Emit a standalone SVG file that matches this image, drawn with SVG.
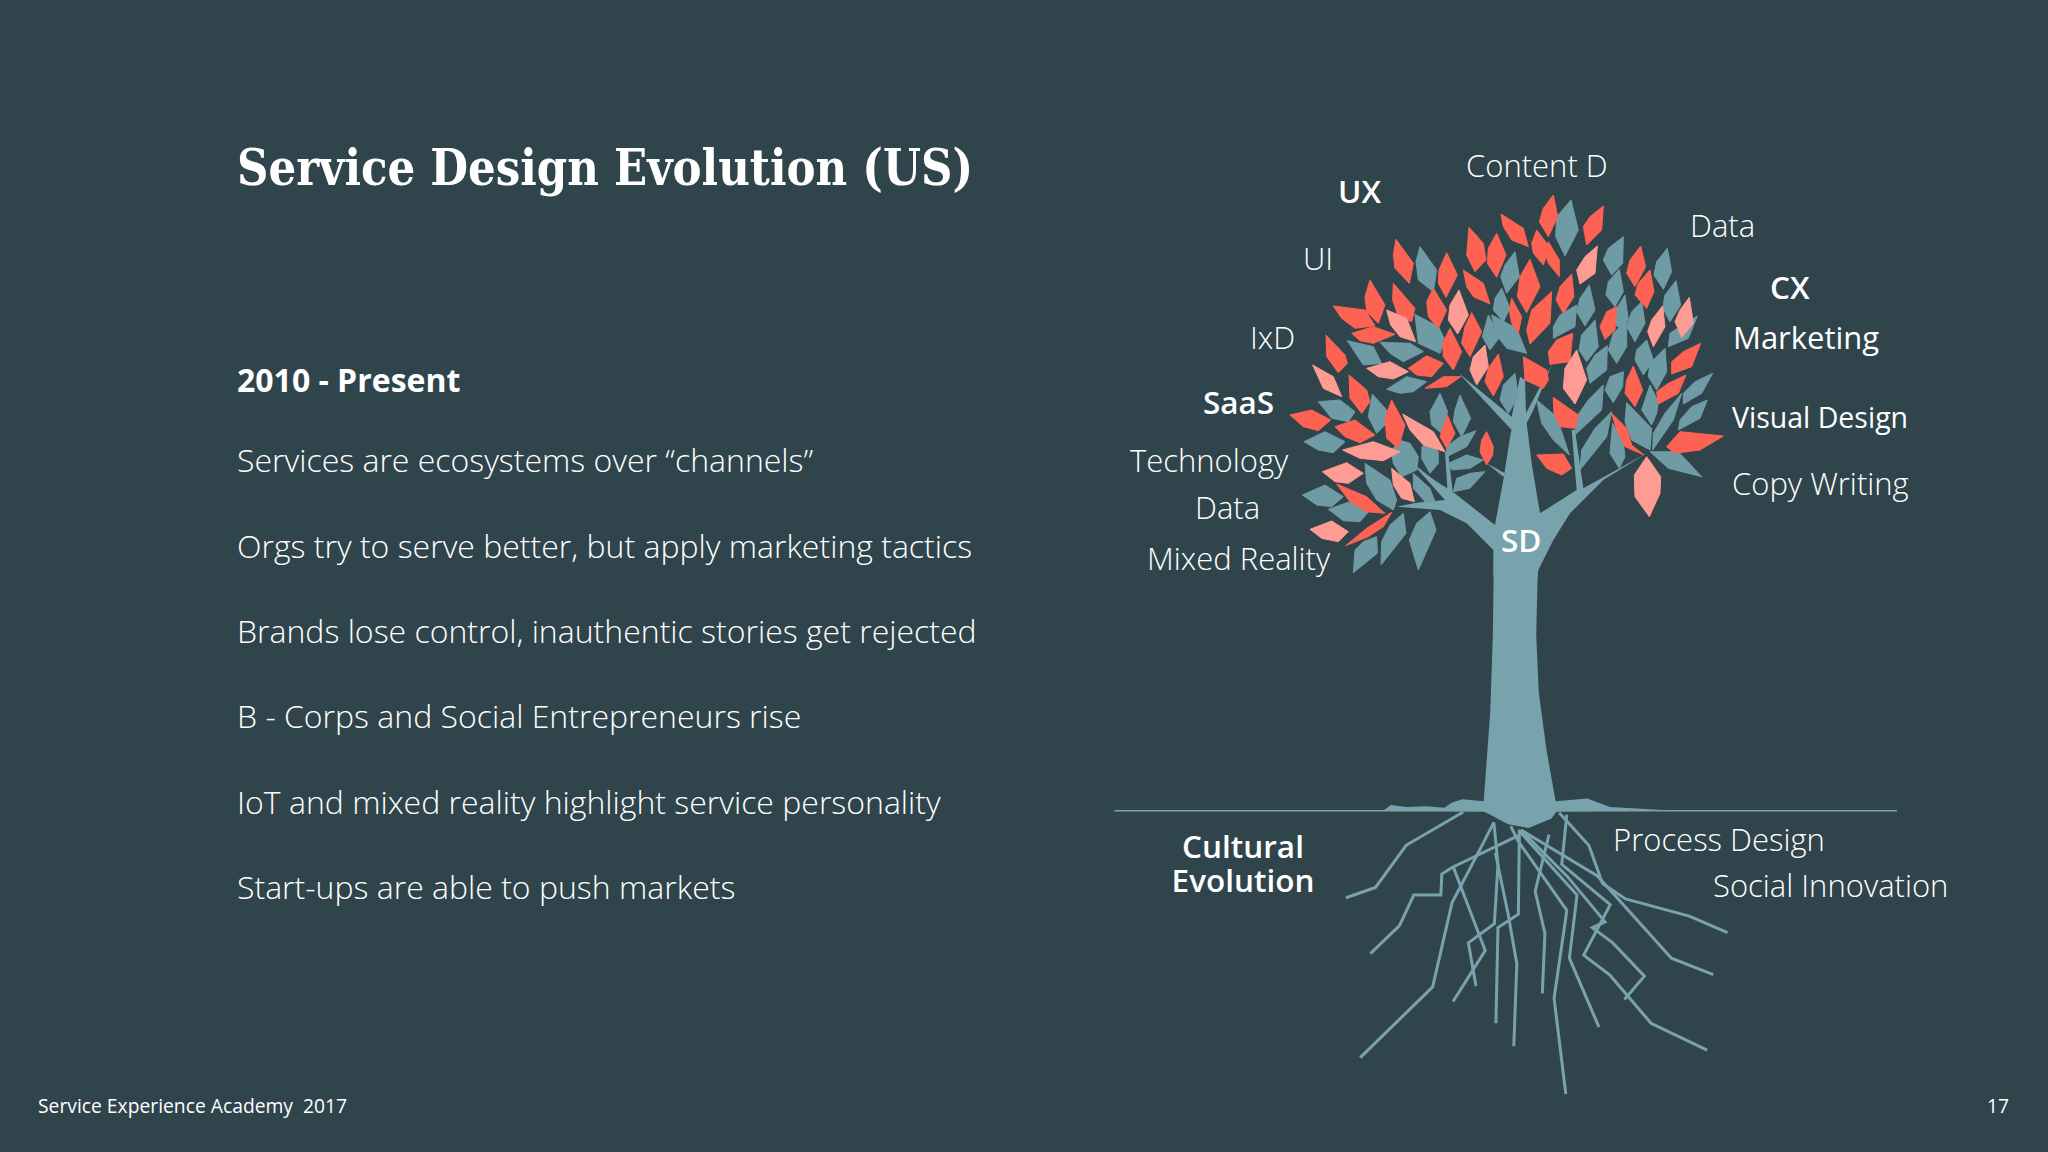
<svg xmlns="http://www.w3.org/2000/svg" width="2048" height="1152" viewBox="0 0 2048 1152">
<style>
text{font-family:"Open Sans","Noto Sans","Liberation Sans",sans-serif;fill:#fff}
.t{font-family:"DejaVu Serif Condensed","DejaVu Serif",serif;font-weight:700;font-size:51px}
.h{font-weight:700;font-size:32px}
.b{font-weight:300;font-size:32px}
.l{font-weight:300;font-size:31px}
.m{font-weight:400;font-size:31px}
.s{font-weight:600;font-size:31.5px}
.f{font-weight:400;font-size:19.3px}
.r polygon{fill:#fd6252;stroke:#fd6252}
.p polygon{fill:#fe9b93;stroke:#fe9b93}
.g polygon{fill:#6f9ba5;stroke:#6f9ba5}
.r polygon,.p polygon,.g polygon{stroke-width:3;stroke-linejoin:round}
.k{fill:#78a3ad}
.root polyline{fill:none;stroke:#78a3ad;stroke-width:3;vector-effect:non-scaling-stroke}
</style>
<rect width="2048" height="1152" fill="#30444c"/>
<text class="t" x="237" y="185" textLength="736" lengthAdjust="spacingAndGlyphs">Service Design Evolution (US)</text>
<g id="body">
<text class="h" x="237" y="392">2010 - Present</text>
<text class="b" x="237" y="472">Services are ecosystems over “channels”</text>
<text class="b" x="237" y="558">Orgs try to serve better, but apply marketing tactics</text>
<text class="b" x="237" y="643">Brands lose control, inauthentic stories get rejected</text>
<text class="b" x="237" y="728">B - Corps and Social Entrepreneurs rise</text>
<text class="b" x="237" y="814">IoT and mixed reality highlight service personality</text>
<text class="b" x="237" y="899">Start-ups are able to push markets</text>
</g>
<g id="roots" class="root" transform="translate(1100 520) scale(.5102 .3827)">
<line x1="28" y1="760" x2="1562" y2="760" stroke="#78a3ad" stroke-width="1.5" style="vector-effect:non-scaling-stroke"/>
<polyline points="712,763 600,850 540,960 482,987"/>
<polyline points="820,825 690,908 670,925 668,980 615,980 587,1060 530,1133"/>
<polyline points="772,790 745,860 690,1000 652,1220 510,1405"/>
<polyline points="692,905 755,1125 692,1258"/>
<polyline points="772,790 780,900 773,1055 722,1105 737,1218"/>
<polyline points="775,870 800,1030 817,1160 811,1375"/>
<polyline points="822,810 820,1030 780,1065 776,1315"/>
<polyline points="880,822 853,970 872,1080 867,1237"/>
<polyline points="805,800 820,840 915,1020 890,1250 913,1500"/>
<polyline points="825,810 915,930 990,1050 965,1065 1005,1105 1067,1192 1028,1253"/>
<polyline points="820,810 935,980 920,1145 978,1325"/>
<polyline points="915,770 905,900 1000,1005 948,1137 1000,1190 1080,1315 1190,1385"/>
<polyline points="900,765 958,850 985,950 1030,990 1155,1035 1230,1078"/>
<polyline points="825,810 975,930 1120,1145 1202,1188"/>
<polygon class="k" points="772,100 770,300 765,500 752,735 710,730 690,738 675,752 640,748 600,750 570,745 555,760 752,762 765,770 800,795 840,805 885,780 895,762 1130,760 1000,750 955,728 893,735 875,600 860,450 855,300 858,135"/>
</g>
<g id="trunk" transform="translate(1270 180) scale(.33333)">
<polygon class="k" points="670,1190 670,1110 590,1030 510,990 380,980 440,968 525,960 425,848 500,905 532,925 525,815 535,820 548,935 675,1035 700,900 722,760 725,750 565,578 725,710 750,590 765,600 768,700 845,555 790,690 770,730 785,850 810,1000 920,930 905,750 915,750 940,925 1130,820 1000,900 900,1000 850,1080 805,1170 803,1190"/>
<polygon class="k" points="650,850 705,880 700,890"/>
<g class="g">
<polygon points="903,60 925,150 885,228 857,170 860,110"/><polygon points="1060,170 1058,250 1025,285 1000,240 1015,205"/><polygon points="1192,205 1205,275 1180,328 1152,285 1160,245"/><polygon points="1048,268 1060,335 1035,380 1008,345 1015,305"/><polygon points="1218,302 1232,375 1200,425 1178,385 1185,345"/><polygon points="1282,408 1255,475 1195,500 1200,460 1230,440"/><polygon points="450,200 500,270 490,335 445,300 438,245"/><polygon points="735,215 748,290 710,340 692,290 705,255"/><polygon points="958,315 975,390 945,438 920,395 930,355"/><polygon points="695,325 720,385 700,425 670,390 675,355"/><polygon points="920,375 915,440 850,475 850,440 870,405"/><polygon points="435,403 505,440 525,480 510,520 445,490"/><polygon points="1065,345 1075,420 1050,445 1030,430 1040,385"/><polygon points="1115,365 1125,430 1095,485 1070,440 1085,395"/><polygon points="655,405 690,470 660,510 637,470"/><polygon points="665,405 740,445 770,520 710,505 680,465"/><polygon points="975,420 985,500 950,545 927,510 935,465"/><polygon points="1070,420 1070,500 1040,550 1015,510 1030,460"/><polygon points="1012,497 1010,570 960,610 950,565 975,525"/><polygon points="1130,480 1150,540 1120,585 1095,540 1100,510"/><polygon points="1185,505 1190,575 1160,630 1135,590 1140,550"/><polygon points="232,482 310,500 335,550 280,555"/><polygon points="330,487 420,490 460,515 400,545 360,520"/><polygon points="350,628 410,590 470,605 430,635 390,640"/><polygon points="307,642 350,690 345,735 320,760 295,710"/><polygon points="145,665 210,660 255,695 235,725 185,715"/><polygon points="102,785 165,755 225,785 190,818 145,810"/><polygon points="1060,575 1058,620 1030,668 1005,630 1020,590"/><polygon points="1328,580 1295,640 1240,672 1240,640 1275,605"/><polygon points="1312,660 1290,715 1225,750 1230,720 1265,680"/><polygon points="1140,615 1165,665 1160,700 1145,735 1115,690"/><polygon points="735,580 745,650 715,700 690,660 700,615"/><polygon points="1000,615 995,690 915,765 920,710 955,660"/><polygon points="800,660 860,710 898,825 850,780 815,730"/><polygon points="1025,695 1010,770 930,870 935,810 975,745"/><polygon points="510,640 533,695 515,760 485,735 480,695"/><polygon points="570,645 602,715 575,770 550,725 555,690"/><polygon points="1235,640 1210,720 1148,810 1150,760 1185,700"/><polygon points="1070,668 1145,745 1140,810 1085,780 1065,725"/><polygon points="1028,730 1060,790 1065,830 1048,865 1020,820"/><polygon points="1140,815 1225,815 1295,890 1195,865"/><polygon points="618,752 590,800 530,830 530,800 570,770"/><polygon points="640,840 600,865 545,870 535,850 590,825"/><polygon points="645,875 600,925 550,935 560,895 600,880"/><polygon points="456,800 480,790 505,815 505,850 480,880 455,835"/><polygon points="385,780 420,790 445,830 440,870 395,890 370,850 365,815"/><polygon points="430,880 480,925 495,965 465,965 430,925"/><polygon points="285,850 360,900 380,960 370,990 320,960 290,910"/><polygon points="97,945 165,915 220,950 185,980 140,975"/><polygon points="175,988 240,965 300,990 270,1025 220,1022"/><polygon points="320,1070 322,1120 250,1178 255,1110 280,1085"/><polygon points="400,1000 408,1060 333,1155 335,1085 360,1035"/><polygon points="480,995 498,1050 445,1170 418,1080 440,1030"/>
</g>
<g class="r">
<polygon points="850,45 863,110 835,170 808,125 820,85"/><polygon points="1000,78 995,150 950,195 940,140 960,110"/><polygon points="693,102 760,145 775,200 725,180 700,140"/><polygon points="597,142 640,190 648,240 615,275 590,225"/><polygon points="680,160 708,225 680,292 652,250 655,205"/><polygon points="800,150 830,190 835,215 820,255 790,220 785,190"/><polygon points="835,185 868,240 868,290 835,250 825,215"/><polygon points="1112,198 1127,260 1095,320 1070,280 1080,240"/><polygon points="1140,270 1152,335 1130,385 1095,345 1105,310"/><polygon points="378,178 430,250 418,310 375,265 370,225"/><polygon points="530,218 562,285 528,352 505,310 507,270"/><polygon points="580,270 640,310 660,372 610,350 590,320"/><polygon points="780,238 810,320 770,398 742,350 750,290"/><polygon points="905,282 912,350 880,400 858,360 870,320"/><polygon points="300,300 345,375 325,430 290,395 285,350"/><polygon points="370,310 435,385 425,425 385,410 368,360"/><polygon points="490,325 530,390 505,445 475,410 470,365"/><polygon points="190,378 285,390 315,437 255,445 215,415"/><polygon points="245,460 310,440 375,463 310,490 270,482"/><polygon points="725,355 755,410 745,460 725,430 718,390"/><polygon points="845,335 840,430 780,492 770,450 785,390"/><polygon points="1040,380 1035,450 1005,478 990,440 1010,395"/><polygon points="605,398 635,455 600,530 575,490 585,440"/><polygon points="540,445 575,515 550,570 520,530 518,490"/><polygon points="908,460 900,545 840,553 835,515 860,480"/><polygon points="1292,490 1265,560 1205,582 1205,545 1240,515"/><polygon points="685,522 700,590 670,648 645,605 655,565"/><polygon points="760,530 830,570 835,600 820,625 765,600"/><polygon points="415,565 470,527 520,550 485,590 440,585"/><polygon points="465,625 520,590 572,590 530,620"/><polygon points="168,465 225,525 232,550 205,578 170,530"/><polygon points="237,585 290,630 300,665 275,700 240,655"/><polygon points="60,705 125,690 182,720 145,752 100,740"/><polygon points="195,740 255,720 315,765 270,788 225,770"/><polygon points="365,660 405,735 385,805 350,775 345,715"/><polygon points="1090,558 1118,630 1095,680 1065,640 1070,600"/><polygon points="1248,585 1225,640 1165,672 1160,635 1195,610"/><polygon points="850,652 925,705 915,745 870,740 852,700"/><polygon points="1025,700 1070,745 1085,795 1122,825 1065,800 1040,750"/><polygon points="1360,768 1290,810 1215,820 1190,800 1230,755"/><polygon points="800,825 880,822 905,865 875,885 830,865"/><polygon points="650,755 670,800 668,825 650,855 630,815 635,780"/><polygon points="532,705 555,760 530,805 510,770"/><polygon points="200,912 290,950 345,1000 290,995 240,965"/><polygon points="227,1097 290,1045 365,997 340,1040 295,1070"/>
</g>
<g class="p">
<polygon points="982,198 975,280 930,312 920,270 945,230"/><polygon points="1258,352 1270,430 1235,472 1215,425 1230,390"/><polygon points="567,330 595,405 563,462 535,420 540,375"/><polygon points="350,390 410,415 437,485 390,470 362,435"/><polygon points="1178,378 1185,440 1150,500 1133,455 1145,420"/><polygon points="920,510 950,600 915,672 880,625 885,565"/><polygon points="645,495 655,560 620,615 600,570 610,530"/><polygon points="290,565 360,545 415,575 370,597 325,590"/><polygon points="128,555 190,590 215,650 160,625"/><polygon points="1130,830 1172,890 1170,940 1138,1010 1095,950 1093,885"/><polygon points="398,702 490,755 525,815 460,795 420,750"/><polygon points="218,810 310,785 390,815 340,842 270,835"/><polygon points="157,875 230,848 280,880 235,910 195,905"/><polygon points="365,865 420,910 433,965 395,955 370,915"/><polygon points="120,1048 185,1023 235,1055 205,1085 155,1075"/>
</g>
</g>
<g id="labels">
<text class="l" x="1466" y="177">Content D</text>
<text class="s" x="1338" y="203">UX</text>
<text class="l" x="1303" y="270">UI</text>
<text class="l" x="1690" y="237">Data</text>
<text class="s" x="1770" y="299">CX</text>
<text class="m" x="1733" y="349">Marketing</text>
<text class="l" x="1250" y="349">IxD</text>
<text class="s" x="1203" y="414">SaaS</text>
<text class="m" x="1732" y="428" style="font-size:28.5px">Visual Design</text>
<text class="l" x="1732" y="495">Copy Writing</text>
<text class="l" x="1130" y="472">Technology</text>
<text class="l" x="1195" y="519">Data</text>
<text class="l" x="1147" y="570">Mixed Reality</text>
<text class="s" x="1501" y="552">SD</text>
<text class="s" x="1243" y="858" text-anchor="middle">Cultural</text>
<text class="s" x="1243" y="892" text-anchor="middle">Evolution</text>
<text class="l" x="1613" y="851">Process Design</text>
<text class="l" x="1713" y="897">Social Innovation</text>
</g>
<g id="footer">
<text class="f" x="38" y="1113" xml:space="preserve">Service Experience Academy  2017</text>
<text class="f" x="2009" y="1113" text-anchor="end">17</text>
</g>
</svg>
